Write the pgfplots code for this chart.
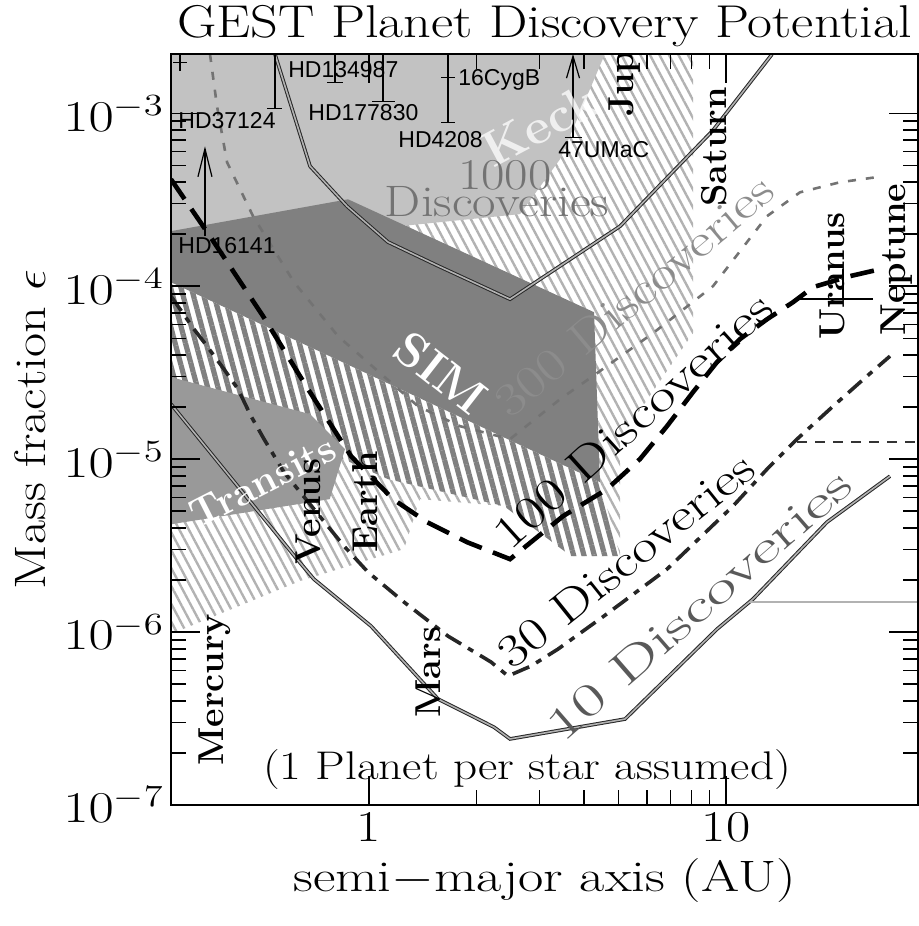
\RequirePackage{fix-cm}
\documentclass[border=0pt]{standalone}
\usepackage{fontspec}
\newfontfamily\hel{Liberation Sans}
\usepackage{graphicx}
\usepackage{pgfplots}
\pgfplotsset{compat=1.18}
\usetikzlibrary{patterns.meta,arrows.meta}

\begin{document}
\begin{tikzpicture}
\begin{axis}[
 scale only axis, width=373.5pt, height=375.5pt,
 xmode=log, ymode=log,
 xmin=0.2788, xmax=34.5, ymin=1e-7, ymax=2.2e-3,
 xtick={1,10}, xticklabels={\scalebox{1.2}[1]{1},\scalebox{1.2}[1]{10}},
 ytick={1e-7,1e-6,1e-5,1e-4,1e-3},
 yticklabels={\scalebox{1.25}[1]{$10^{-7}$},\scalebox{1.25}[1]{$10^{-6}$},\scalebox{1.25}[1]{$10^{-5}$},\scalebox{1.25}[1]{$10^{-4}$},\scalebox{1.25}[1]{$10^{-3}$}},
 major tick length=14.5pt, minor tick length=7.5pt,
 tick style={black, line width=0.7pt},
 axis line style={line width=1pt},
 tick label style={font=\fontsize{22}{26}\selectfont},
 xlabel={\scalebox{1.25}[1]{semi$-$major axis (AU)}}, ylabel={\scalebox{1.19}[1]{Mass fraction $\epsilon$}},
 label style={font=\fontsize{22}{26}\selectfont},
 xlabel style={at={(axis description cs:0.5,-0.0999)}, anchor=center},
 ylabel style={at={(axis description cs:-0.1888,0.5)}, anchor=center},
 title={\scalebox{1.18}[1]{GEST Planet Discovery Potential}},
 every axis title shift=0pt,
 title style={font=\fontsize{23}{28}\selectfont, at={(axis description cs:0.5,1)}, anchor=base, yshift=8pt},
 axis on top,
]
% light hatched region
\addplot[draw=none, pattern={Lines[angle=-62,distance=4.2pt,line width=1.2pt]}, pattern color=black!30] coordinates {(0.2788,1.636e-4) (1.919,2.2e-3) (8.084,2.2e-3) (8.084,5.35e-5) (5.048,1.305e-5) (5.048,2.75e-6) (3.68,2.75e-6) (2.388,5.35e-6) (1.389,5.87e-6) (1.253,3.02e-6) (0.6404,1.972e-6) (0.2788,9.74e-7)};
% bold striped region
\addplot[draw=none, fill=white] coordinates {(0.2788,1.054e-4) (4.436,7.36e-6) (5.048,2.75e-6) (3.68,2.75e-6) (2.388,5.35e-6) (1.130,7.66e-6) (0.2788,2.79e-5)};
\addplot[draw=none, pattern={Lines[angle=-75,distance=5pt,line width=2.6pt]}, pattern color=black!50] coordinates {(0.2788,1.054e-4) (4.436,7.36e-6) (5.048,2.75e-6) (3.68,2.75e-6) (2.388,5.35e-6) (1.130,7.66e-6) (0.2788,2.79e-5)};
% Transits
\addplot[draw=none, fill=black!40] coordinates {(0.2788,2.98e-5) (0.6835,1.82e-5) (0.8565,1.142e-5) (0.7762,5.87e-6) (0.2788,4.2e-6)};
% Keck
\addplot[draw=none, fill=black!24] coordinates {(0.2788,2.2e-3) (4.58,2.2e-3) (3.428,5.42e-4) (2.648,2.61e-4) (0.2788,1.636e-4)};
% SIM
\addplot[draw=none, fill=black!50] coordinates {(0.2788,2.08e-4) (0.8733,3.18e-4) (4.269,7.07e-5) (4.436,7.36e-6) (0.2788,1.054e-4)};

% 1000 discoveries
\addplot[black!85, line width=0.5pt, double=black!30, double distance=0.8pt] coordinates {(0.545,2.2e-3) (0.6835,4.94e-4) (0.8677,2.90e-4) (1.130,1.80e-4) (1.561,1.31e-4) (2.483,8.41e-5) (5.048,2.22e-4) (9.196,7.97e-4) (13.45,2.19e-3)};
% 300 discoveries
\addplot[black!55, line width=1.3pt, dash pattern=on 4pt off 5pt] coordinates {(0.3585,2.2e-3) (0.3752,1.098e-3) (0.4002,5.21e-4) (0.4733,2.54e-4) (0.6166,1.054e-4) (0.8188,5.14e-5) (1.372,2.02e-5) (1.798,1.551e-5) (2.483,1.305e-5) (3.428,2.22e-5) (4.352,3.14e-5) (6.245,5.35e-5) (9.196,1.0e-4) (13.03,2.54e-4) (16.12,3.49e-4) (20.86,3.99e-4) (27.53,4.32e-4)};
% 100 discoveries
\addplot[black, line width=2.3pt, dash pattern=on 12pt off 6pt] coordinates {(0.2788,4.15e-4) (0.3585,1.945e-4) (0.5048,6.71e-5) (0.6747,2.54e-5) (0.8904,1.04e-5) (1.167,5.87e-6) (1.454,4.32e-6) (1.882,3.31e-6) (2.483,2.64e-6) (3.495,4.68e-6) (4.642,6.71e-6) (5.74,1.0e-5) (6.834,1.551e-5) (8.084,2.44e-5) (9.436,3.64e-5) (10.94,4.94e-5) (13.03,6.44e-5) (15.41,8.08e-5) (17.53,9.87e-5) (22.25,1.143e-4) (27.0,1.253e-4)};
% 30 discoveries
\addplot[black!85, line width=1.8pt, dash pattern=on 9pt off 4pt on 3pt off 4pt] coordinates {(0.2788,8.75e-5) (0.3234,5.64e-5) (0.3449,4.75e-5) (0.3925,3.31e-5) (0.4296,2.54e-5) (0.4672,1.772e-5) (0.5081,1.305e-5) (0.5778,8.41e-6) (0.8511,3.14e-6) (0.9936,2.22e-6) (1.253,1.491e-6) (1.664,9.48e-7) (2.197,6.71e-7) (2.451,5.57e-7) (2.843,6.36e-7) (3.383,7.97e-7) (4.552,1.238e-6) (6.834,2.31e-6) (10.46,5.35e-6) (13.03,8.75e-6) (15.81,1.305e-5) (19.94,2.02e-5) (24.83,3.02e-5) (28.80,3.94e-5)};
\addplot[black!80, line width=0.8pt, dash pattern=on 5pt off 4pt] coordinates {(15.81,1.253e-5) (34.5,1.253e-5)};
% 10 discoveries
\addplot[black!85, line width=0.5pt, double=black!30, double distance=0.8pt] coordinates {(0.2788,2.08e-5) (0.6286,2.64e-6) (0.7014,2.02e-6) (1.013,1.083e-6) (1.561,4.10e-7) (2.239,2.82e-7) (2.483,2.41e-7) (5.213,3.14e-7) (9.436,1.04e-6) (11.90,1.552e-6) (19.18,4.32e-6) (28.80,7.97e-6)};
\addplot[black!85, line width=0.4pt, double=black!30, double distance=0.6pt] coordinates {(11.67,1.491e-6) (34.5,1.491e-6)};

% known planets (error bars and limits)
\addplot[black, line width=0.6pt] coordinates {(0.2955,2.2e-3) (0.2955,1.75e-3)};
\addplot[black, line width=0.6pt] coordinates {(0.2825,1.971e-3) (0.3092,1.971e-3)};
\addplot[black, line width=0.6pt] coordinates {(0.5454,2.2e-3) (0.5454,1.069e-3)};
\addplot[black, line width=0.6pt] coordinates {(0.518,1.069e-3) (0.5708,1.069e-3)};
\addplot[black, line width=0.6pt] coordinates {(0.8030,2.2e-3) (0.8030,1.511e-3)};
\addplot[black, line width=0.6pt] coordinates {(0.7627,1.511e-3) (0.8455,1.511e-3)};
\addplot[black, line width=0.6pt] coordinates {(1.094,2.2e-3) (1.094,1.173e-3)};
\addplot[black, line width=0.6pt] coordinates {(1.0195,1.173e-3) (1.1826,1.173e-3)};
\addplot[black, line width=0.6pt] coordinates {(1.664,2.2e-3) (1.664,8.87e-4)};
\addplot[black, line width=0.6pt] coordinates {(1.591,1.615e-3) (1.741,1.615e-3)};
\addplot[black, line width=0.6pt] coordinates {(1.591,8.87e-4) (1.741,8.87e-4)};
\addplot[black, line width=0.6pt, -{Straight Barb[length=11pt,width=6.5pt]}] coordinates {(3.728,7.26e-4) (3.728,2.2e-3)};
\addplot[black, line width=0.6pt] coordinates {(3.540,7.26e-4) (3.951,7.26e-4)};
\addplot[black, line width=0.6pt, -{Straight Barb[length=14pt,width=7pt]}] coordinates {(0.3471,1.945e-4) (0.3471,6.44e-4)};
% Uranus marker
\addplot[black, line width=0.8pt] coordinates {(16.12,8.41e-5) (25.8,8.41e-5)};
\addplot[black, line width=0.8pt] coordinates {(21.27,1.253e-4) (21.27,8.41e-5)};

% region labels
\node[font=\bfseries\fontsize{25}{28}\selectfont, text=white, opacity=0.75, rotate=28] at (rel axis cs:0.494,0.9055) {Keck};
\node[font=\bfseries\fontsize{24}{28}\selectfont, text=white, rotate=-38] at (rel axis cs:0.3614,0.5752) {SIM};
\node[font=\bfseries\fontsize{20}{24}\selectfont, text=white, rotate=27] at (rel axis cs:0.1231,0.4314) {Transits};

% discovery labels
\node[font=\fontsize{22}{26}\selectfont, text=black!55] at (rel axis cs:0.4471,0.8389) {\scalebox{1.16}[1]{1000}};
\node[font=\fontsize{22}{26}\selectfont, text=black!55] at (rel axis cs:0.4364,0.8029) {\scalebox{1.16}[1]{Discoveries}};
\node[font=\fontsize{23}{26}\selectfont, text=black!45, rotate=40] at (rel axis cs:0.6198,0.6778) {\scalebox{1.25}[1]{300 Discoveries}};
\node[font=\fontsize{23}{26}\selectfont, text=black, rotate=42] at (rel axis cs:0.6185,0.5113) {\scalebox{1.28}[1]{100 Discoveries}};
\node[font=\fontsize{23}{26}\selectfont, text=black, rotate=38.7] at (rel axis cs:0.6091,0.3262) {\scalebox{1.22}[1]{30 Discoveries}};
\node[font=\fontsize{23}{26}\selectfont, text=black!65, rotate=41] at (rel axis cs:0.7068,0.2663) {\scalebox{1.5}[1]{10 Discoveries}};
\node[font=\fontsize{20}{24}\selectfont] at (rel axis cs:0.4766,0.0466) {\scalebox{1.18}[1]{(1 Planet per star assumed)}};

% star labels
\node[font=\hel\fontsize{11.5}{13}\selectfont, anchor=west, inner sep=0] at (rel axis cs:0.0094,0.9108) {HD37124};
\node[font=\hel\fontsize{11.5}{13}\selectfont, anchor=west, inner sep=0] at (rel axis cs:0.1566,0.9787) {HD134987};
\node[font=\hel\fontsize{11.5}{13}\selectfont, anchor=west, inner sep=0] at (rel axis cs:0.1834,0.9214) {HD177830};
\node[font=\hel\fontsize{11.5}{13}\selectfont, anchor=west, inner sep=0] at (rel axis cs:0.3842,0.9654) {16CygB};
\node[font=\hel\fontsize{11.5}{13}\selectfont, anchor=west, inner sep=0] at (rel axis cs:0.3039,0.8855) {HD4208};
\node[font=\hel\fontsize{11.5}{13}\selectfont, anchor=west, inner sep=0] at (rel axis cs:0.5181,0.8722) {47UMaC};
\node[font=\hel\fontsize{11.5}{13}\selectfont, anchor=west, inner sep=0] at (rel axis cs:0.0094,0.7443) {HD16141};

% planet labels
\node[font=\bfseries\fontsize{18}{20}\selectfont, rotate=90, anchor=west, inner sep=0] at (rel axis cs:0.0589,0.0519) {Mercury};
\node[font=\bfseries\fontsize{18}{20}\selectfont, rotate=90, anchor=west, inner sep=0] at (rel axis cs:0.1834,0.3196) {Venus};
\node[font=\bfseries\fontsize{18}{20}\selectfont, rotate=90, anchor=west, inner sep=0] at (rel axis cs:0.2597,0.3356) {Earth};
\node[font=\bfseries\fontsize{18}{20}\selectfont, rotate=90, anchor=west, inner sep=0] at (rel axis cs:0.3440,0.1158) {Mars};
\node[font=\bfseries\fontsize{18}{20}\selectfont, rotate=90, anchor=west, inner sep=0] at (rel axis cs:0.6078,0.9161) {Jup};
\node[font=\bfseries\fontsize{18}{20}\selectfont, rotate=90, anchor=west, inner sep=0] at (rel axis cs:0.7269,0.7963) {Saturn};
\node[font=\bfseries\fontsize{18}{20}\selectfont, rotate=90, anchor=west, inner sep=0] at (rel axis cs:0.8849,0.6192) {Uranus};
\node[font=\bfseries\fontsize{18}{20}\selectfont, rotate=90, anchor=west, inner sep=0] at (rel axis cs:0.9719,0.6245) {Neptune};
\end{axis}
\pgfresetboundingbox
\useasboundingbox (-85.5pt,-60.5pt) rectangle (374pt,402.5pt);
\end{tikzpicture}
\end{document}
